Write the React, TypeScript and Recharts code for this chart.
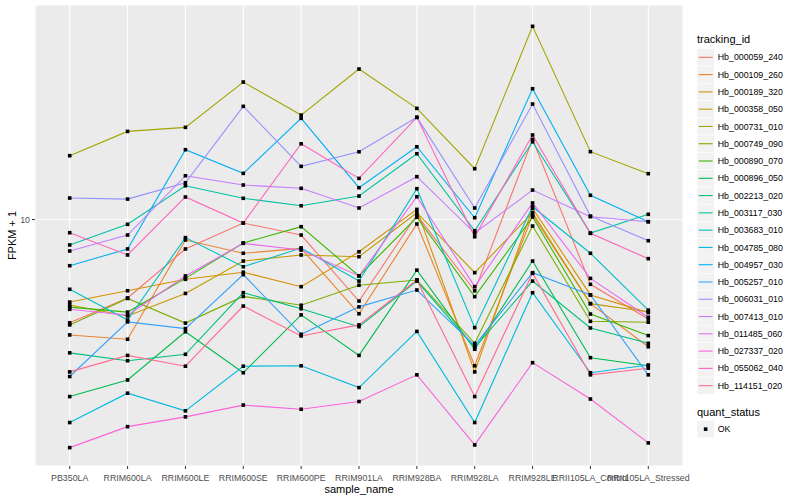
import React from 'react';
import { LineChart, Line, XAxis, YAxis, CartesianGrid } from 'recharts';

const categories = [
  'PB350LA', 'RRIM600LA', 'RRIM600LE', 'RRIM600SE', 'RRIM600PE', 'RRIM901LA',
  'RRIM928BA', 'RRIM928LA', 'RRIM928LE', 'RRII105LA_Control', 'RRII105LA_Stressed',
];

const trackingIds = [
  'Hb_000059_240', 'Hb_000109_260', 'Hb_000189_320', 'Hb_000358_050', 'Hb_000731_010',
  'Hb_000749_090', 'Hb_000890_070', 'Hb_000896_050', 'Hb_002213_020', 'Hb_003117_030',
  'Hb_003683_010', 'Hb_004785_080', 'Hb_004957_030', 'Hb_005257_010', 'Hb_006031_010',
  'Hb_007413_010', 'Hb_011485_060', 'Hb_027337_020', 'Hb_055062_040', 'Hb_114151_020',
];

const colors = [
  '#F8766D', '#EA8331', '#D89000', '#C09B00', '#A3A500', '#7CAE00', '#39B600', '#00BB4E',
  '#00BF7D', '#00C1A3', '#00BFC4', '#00BAE0', '#00B0F6', '#35A2FF', '#9590FF', '#C77CFF',
  '#E76BF3', '#FA62DB', '#FF62BC', '#FF6C91',
];

// FPKM + 1 values per sample (same order as categories)
const hb_000059_240 = [5.07, 5.97, 8.24, 9.77, 9.03, 5.85, 10.3, 6.26, 16.95, 6.53, 5.2];
const hb_000109_260 = [4.68, 4.55, 8.74, 8.01, 8.27, 5.38, 9.71, 3.82, 10.3, 5.75, 4.33];
const hb_000189_320 = [5.81, 6.26, 6.75, 7.07, 6.43, 8.09, 10.69, 3.67, 10.76, 6.09, 5.42];
const hb_000358_050 = [5.7, 5.3, 6.15, 7.61, 7.92, 7.83, 10.46, 7.05, 10.46, 5.75, 5.45];
const hb_000731_010 = [15.22, 17.86, 18.34, 24.71, 19.88, 26.92, 20.78, 13.97, 35.65, 15.63, 13.52];
const hb_000749_090 = [5.0, 5.95, 5.06, 6.03, 5.69, 6.49, 6.72, 4.43, 9.58, 5.12, 5.09];
const hb_000890_070 = [5.62, 5.44, 6.79, 8.57, 9.54, 6.9, 10.15, 6.02, 10.17, 5.37, 4.66];
const hb_000896_050 = [3.12, 3.48, 4.78, 3.65, 5.34, 4.09, 7.17, 4.26, 7.61, 4.03, 3.82];
const hb_002213_020 = [4.16, 3.95, 4.12, 6.18, 5.56, 4.94, 6.67, 4.31, 6.67, 4.9, 4.43];
const hb_003117_030 = [8.46, 9.69, 12.49, 11.5, 10.95, 11.67, 15.42, 9.29, 16.68, 9.15, 10.35];
const hb_003683_010 = [6.32, 5.16, 8.88, 7.33, 8.29, 6.67, 12.25, 4.91, 10.88, 8.01, 5.51];
const hb_004785_080 = [2.63, 3.19, 2.84, 3.81, 3.82, 3.31, 4.79, 2.63, 6.18, 3.65, 3.84];
const hb_004957_030 = [7.38, 8.24, 15.83, 13.55, 19.46, 12.33, 16.14, 10.12, 23.65, 11.73, 9.86];
const hb_005257_010 = [3.56, 5.1, 4.88, 6.96, 4.7, 5.63, 6.29, 4.37, 7.05, 6.09, 3.6];
const hb_006031_010 = [11.52, 11.44, 12.74, 21.06, 14.19, 15.62, 19.59, 10.79, 21.38, 10.23, 8.7];
const hb_007413_010 = [8.13, 9.03, 13.34, 12.55, 12.28, 10.79, 13.26, 9.15, 12.14, 10.19, 9.86];
const hb_011485_060 = [5.54, 5.33, 6.9, 8.55, 8.18, 6.9, 11.62, 6.43, 11.15, 6.79, 5.26];
const hb_027337_020 = [2.23, 2.56, 2.73, 2.95, 2.87, 3.02, 3.6, 2.27, 3.9, 3.07, 2.3];
const hb_055062_040 = [9.17, 7.92, 11.6, 9.77, 16.46, 13.11, 19.59, 8.93, 17.44, 9.13, 7.73];
const hb_114151_020 = [3.67, 4.09, 3.81, 5.66, 4.65, 5.0, 6.72, 3.12, 7.02, 3.6, 3.76];

const seriesValues = [
  hb_000059_240, hb_000109_260, hb_000189_320, hb_000358_050, hb_000731_010,
  hb_000749_090, hb_000890_070, hb_000896_050, hb_002213_020, hb_003117_030,
  hb_003683_010, hb_004785_080, hb_004957_030, hb_005257_010, hb_006031_010,
  hb_007413_010, hb_011485_060, hb_027337_020, hb_055062_040, hb_114151_020,
];

const yTicks = [10];
const yDomain = [1.976, 41.02];
const quantStatus = ['OK'];

const data = categories.map((name, i) => {
  const row: Record<string, number | string> = { x: i, name };
  trackingIds.forEach((id, s) => {
    row[id] = seriesValues[s][i];
  });
  return row;
});

const FONT = '"Liberation Sans", Arial, Helvetica, sans-serif';

const SquareDot = (props: any) => {
  const { cx, cy } = props;
  if (cx == null || cy == null) return <g />;
  return <rect x={cx - 1.8} y={cy - 1.8} width={3.6} height={3.6} fill="#000000" />;
};

const KEY = 17.28;
const LEG_X = 697;
const LEG_Y0 = 48.7;

export default function App() {
  return (
    <div style={{ position: 'absolute', left: 0, top: 0, width: 800, height: 500, background: '#ffffff', fontFamily: FONT }}>
      <LineChart
        width={800}
        height={500}
        data={data}
        margin={{ top: 5, right: 117, bottom: 0, left: 0 }}
      >
        <CartesianGrid fill="#EBEBEB" stroke="#FFFFFF" strokeWidth={1.1} />
        <XAxis
          dataKey="x"
          type="number"
          domain={[-0.6, 10.6]}
          ticks={categories.map((_, i) => i)}
          tickFormatter={(v: number) => categories[v] ?? ''}
          interval={0}
          allowDataOverflow
          axisLine={false}
          tickLine={{ stroke: '#333333', strokeWidth: 1 }}
          tickSize={3}
          tickMargin={6}
          height={34}
          tick={{ fontSize: 8.8, fill: '#4D4D4D', fontFamily: FONT }}
        />
        <YAxis
          type="number"
          scale="log"
          domain={yDomain}
          ticks={yTicks}
          allowDataOverflow
          axisLine={false}
          tickLine={{ stroke: '#333333', strokeWidth: 1 }}
          tickSize={3}
          tickMargin={2}
          width={35}
          tick={{ fontSize: 8.8, fill: '#4D4D4D', fontFamily: FONT }}
        />
        {trackingIds.map((id, s) => (
          <Line
            key={id}
            type="linear"
            dataKey={id}
            stroke={colors[s]}
            strokeWidth={1.1}
            dot={false}
            activeDot={false}
            isAnimationActive={false}
          />
        ))}
        {trackingIds.map((id) => (
          <Line
            key={id + '_pts'}
            type="linear"
            dataKey={id}
            stroke="none"
            dot={SquareDot}
            activeDot={false}
            legendType="none"
            isAnimationActive={false}
          />
        ))}
      </LineChart>
      <svg
        width={800}
        height={500}
        style={{ position: 'absolute', left: 0, top: 0, pointerEvents: 'none' }}
      >
        <text x={359} y={493} textAnchor="middle" fontSize={11} fill="#000" fontFamily={FONT}>
          sample_name
        </text>
        <text
          x={16}
          y={235.5}
          textAnchor="middle"
          fontSize={11}
          fill="#000"
          fontFamily={FONT}
          transform="rotate(-90 16 235.5)"
        >
          FPKM + 1
        </text>
        <text x={LEG_X} y={43} fontSize={11} fill="#000" fontFamily={FONT}>
          tracking_id
        </text>
        {trackingIds.map((id, s) => {
          const y = LEG_Y0 + KEY * s;
          return (
            <g key={id}>
              <rect x={LEG_X} y={y} width={KEY} height={KEY} fill="#F2F2F2" stroke="#FFFFFF" strokeWidth={0.5} />
              <line x1={LEG_X + 1.7} x2={LEG_X + KEY - 1.7} y1={y + KEY / 2} y2={y + KEY / 2} stroke={colors[s]} strokeWidth={1.1} />
              <text x={LEG_X + KEY + 3.5} y={y + KEY / 2 + 3.1} fontSize={8.8} fill="#000" fontFamily={FONT}>
                {id}
              </text>
            </g>
          );
        })}
        <text x={LEG_X} y={416} fontSize={11} fill="#000" fontFamily={FONT}>
          quant_status
        </text>
        {quantStatus.map((q, i) => {
          const y = 420.5 + KEY * i;
          return (
            <g key={q}>
              <rect x={LEG_X} y={y} width={KEY} height={KEY} fill="#F2F2F2" stroke="#FFFFFF" strokeWidth={0.5} />
              <rect x={LEG_X + KEY / 2 - 1.8} y={y + KEY / 2 - 1.8} width={3.6} height={3.6} fill="#000" />
              <text x={LEG_X + KEY + 3.5} y={y + KEY / 2 + 3.1} fontSize={8.8} fill="#000" fontFamily={FONT}>
                {q}
              </text>
            </g>
          );
        })}
      </svg>
    </div>
  );
}
